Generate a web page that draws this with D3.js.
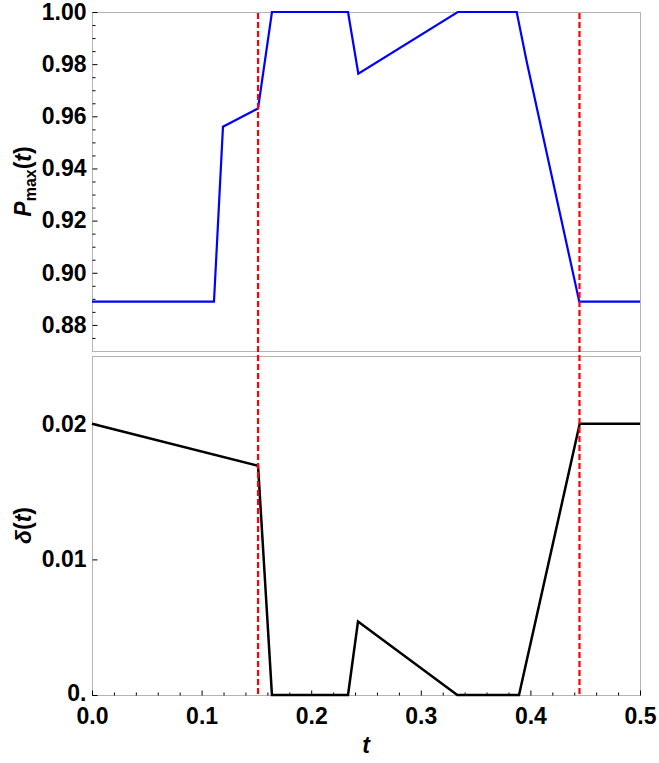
<!DOCTYPE html>
<html lang="en">
<head>
<meta charset="UTF-8">
<title>P_max(t) and delta(t)</title>
<style>
  body { margin: 0; background: #fff; }
  svg { display: block; }
  text { font-family: "Liberation Sans", Arial, sans-serif; font-weight: bold; fill: #000; }
  .tick line { stroke: #000; }
</style>
</head>
<body>
<div id="chart"></div>
<script src="https://cdnjs.cloudflare.com/ajax/libs/d3/7.8.5/d3.min.js"></script>
<script>
// P_max(t) curve (top panel)
const pTimes  = [0, 0.1113, 0.1195, 0.1515, 0.1642, 0.2336, 0.2430, 0.3337, 0.3875, 0.3966, 0.4446, 0.5];
const pValues = [0.8889, 0.8889, 0.956, 0.963, 1.0, 1.0, 0.9763, 1.0, 1.0, 0.981, 0.8889, 0.8889];

// delta(t) curve (bottom panel)
const dTimes  = [0, 0.1515, 0.1642, 0.2336, 0.2427, 0.3333, 0.3896, 0.4450, 0.5];
const dValues = [0.02, 0.0169, 0, 0, 0.00542, 0, 0, 0.02, 0.02];

// red dashed markers
const markTimes = [0.1515, 0.4448];

// ticks
const xTicks = [0, 0.1, 0.2, 0.3, 0.4, 0.5];
const xTickLabels = ["0.0", "0.1", "0.2", "0.3", "0.4", "0.5"];
const pTicks = [0.88, 0.90, 0.92, 0.94, 0.96, 0.98, 1.00];
const pTickLabels = ["0.88", "0.90", "0.92", "0.94", "0.96", "0.98", "1.00"];
const dTicks = [0, 0.01, 0.02];
const dTickLabels = ["0.", "0.01", "0.02"];

const W = 659, H = 763;
const left = 92, right = 640;
const top1 = 12, bot1 = 351;
const top2 = 356, bot2 = 695;

const svg = d3.select("#chart").append("svg")
    .attr("width", W)
    .attr("height", H);

const x = d3.scaleLinear().domain([0, 0.5]).range([left, right]);
const yP = d3.scaleLinear().domain([0.87, 1.0]).range([bot1, top1]);
const yD = d3.scaleLinear().domain([0, 0.025]).range([bot2, top2]);

const fontSize = 23;

// frames
[[top1, bot1], [top2, bot2]].forEach(([t, b]) => {
  svg.append("rect")
    .attr("x", left + 0.5).attr("y", t + 0.5)
    .attr("width", right - left).attr("height", b - t)
    .attr("fill", "none").attr("stroke", "#b4b4b4").attr("stroke-width", 1);
});

// top y axis
const pMinor = d3.range(0.875, 1.0001, 0.005).filter(v => pTicks.every(t => Math.abs(t - v) > 1e-6));
svg.append("g")
    .attr("transform", `translate(${left + 0.5},0)`)
    .call(d3.axisLeft(yP).tickValues(pMinor).tickSizeInner(-3).tickSizeOuter(0).tickFormat(""))
    .call(g => g.select(".domain").remove());
svg.append("g")
    .attr("transform", `translate(${left + 0.5},0)`)
    .call(d3.axisLeft(yP).tickValues(pTicks).tickSizeInner(-5).tickSizeOuter(0).tickPadding(6)
      .tickFormat((d, i) => pTickLabels[i]))
    .call(g => g.select(".domain").remove())
    .call(g => g.selectAll("text").style("font-size", fontSize + "px").style("font-family", null));

// bottom y axis
svg.append("g")
    .attr("transform", `translate(${left + 0.5},0)`)
    .call(d3.axisLeft(yD).tickValues(dTicks).tickSizeInner(-5).tickSizeOuter(0).tickPadding(6)
      .tickFormat((d, i) => dTickLabels[i]))
    .call(g => g.select(".domain").remove())
    .call(g => g.selectAll("text").style("font-size", fontSize + "px").style("font-family", null))
    // the zero label sits a little higher, clear of the x labels
    .call(g => g.selectAll("text").filter(d => d === 0).attr("dy", "0.25em"));

// x axis
const xMinor = d3.range(0.02, 0.5, 0.02).filter(v => xTicks.every(t => Math.abs(t - v) > 1e-6));
svg.append("g")
    .attr("transform", `translate(0,${bot2 + 0.5})`)
    .call(d3.axisBottom(x).tickValues(xMinor).tickSizeInner(-3).tickSizeOuter(0).tickFormat(""))
    .call(g => g.select(".domain").remove());
svg.append("g")
    .attr("transform", `translate(0,${bot2 + 0.5})`)
    .call(d3.axisBottom(x).tickValues(xTicks).tickSizeInner(-5).tickSizeOuter(0).tickPadding(12)
      .tickFormat((d, i) => xTickLabels[i]))
    .call(g => g.select(".domain").remove())
    .call(g => g.selectAll("text").style("font-size", fontSize + "px").style("font-family", null));

// curves
const lineP = d3.line().x((d, i) => x(pTimes[i])).y(d => yP(d));
svg.append("path")
    .datum(pValues)
    .attr("d", lineP)
    .attr("fill", "none")
    .attr("stroke", "#0000ff")
    .attr("stroke-width", 2.2)
    .attr("stroke-linejoin", "miter");

const lineD = d3.line().x((d, i) => x(dTimes[i])).y(d => yD(d));
svg.append("path")
    .datum(dValues)
    .attr("d", lineD)
    .attr("fill", "none")
    .attr("stroke", "#000")
    .attr("stroke-width", 2.5)
    .attr("stroke-linejoin", "miter");

// dashed markers through both panels
svg.selectAll("line.mark")
  .data(markTimes)
  .join("line")
    .attr("class", "mark")
    .attr("x1", d => x(d)).attr("x2", d => x(d))
    .attr("y1", top1 + 1).attr("y2", bot2)
    .attr("stroke", "#ff0000")
    .attr("stroke-width", 2.2)
    .attr("stroke-dasharray", "6,3");

// axis labels
const pLabel = svg.append("text")
    .attr("transform", `translate(31,${(top1 + bot1) / 2}) rotate(-90)`)
    .attr("text-anchor", "middle")
    .style("font-size", fontSize + "px");
pLabel.append("tspan").style("font-style", "italic").text("P");
pLabel.append("tspan").attr("dy", 5).style("font-size", "16px").text("max");
pLabel.append("tspan").attr("dy", -5).text("(");
pLabel.append("tspan").style("font-style", "italic").text("t");
pLabel.append("tspan").text(")");

const dLabel = svg.append("text")
    .attr("transform", `translate(31,${(top2 + bot2) / 2}) rotate(-90)`)
    .attr("text-anchor", "middle")
    .style("font-size", fontSize + "px");
dLabel.append("tspan").style("font-style", "italic").text("δ");
dLabel.append("tspan").text("(");
dLabel.append("tspan").style("font-style", "italic").text("t");
dLabel.append("tspan").text(")");

svg.append("text")
    .attr("x", (left + right) / 2)
    .attr("y", 753)
    .attr("text-anchor", "middle")
    .style("font-size", fontSize + "px")
    .style("font-style", "italic")
    .text("t");
</script>
</body>
</html>
